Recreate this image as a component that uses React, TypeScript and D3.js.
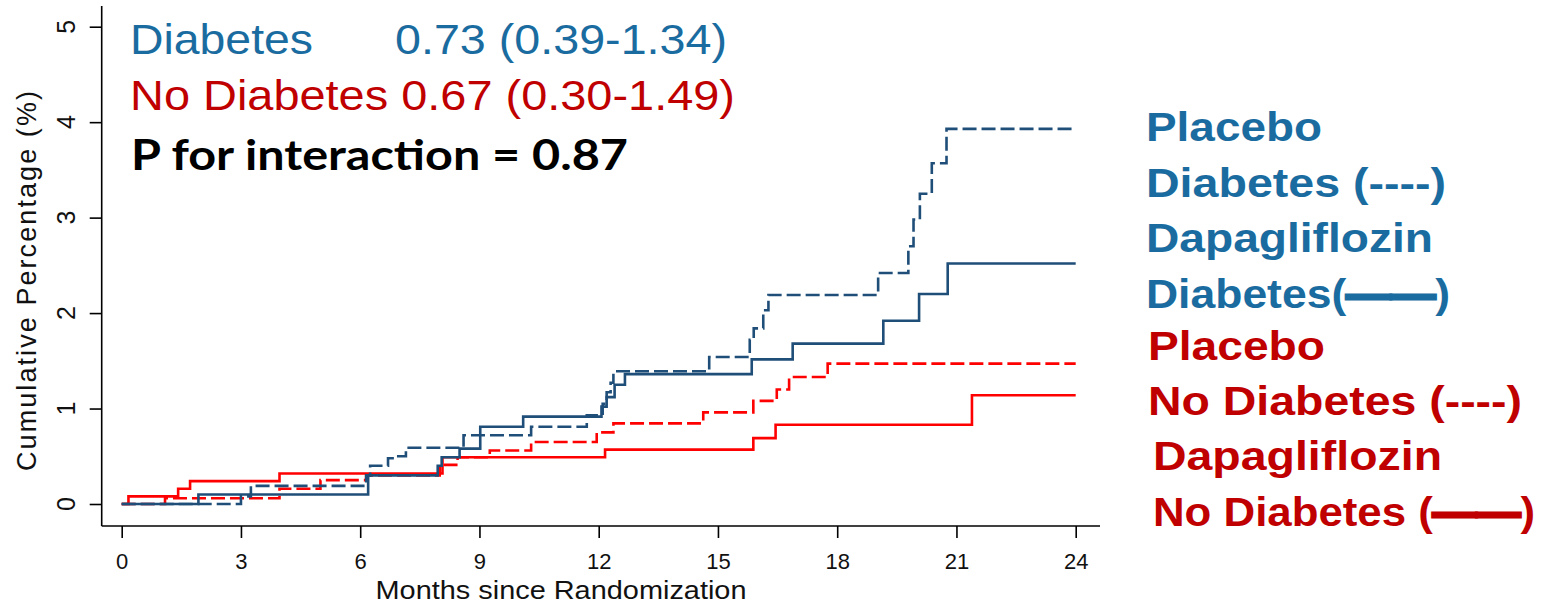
import React from 'react';
import * as d3 from 'd3';

// tick values
const monthTicks = [0, 3, 6, 9, 12, 15, 18, 21, 24];
const pctTicks = [0, 1, 2, 3, 4, 5];

// Placebo, diabetes (blue dashed)
const placeboDmMonths = [0, 3.0, 3.25, 6.15, 6.25, 6.7, 6.9, 7.15, 8.6, 10.3, 11.7, 12.1, 12.2, 12.3, 12.37, 14.78, 15.8, 15.9, 16.14, 16.27, 19.03, 19.79, 19.92, 20.08, 20.38, 20.75, 24];
const placeboDmPct = [0, 0.08, 0.19, 0.30, 0.40, 0.48, 0.50, 0.59, 0.72, 0.81, 0.93, 1.05, 1.17, 1.27, 1.39, 1.54, 1.72, 1.84, 2.03, 2.19, 2.42, 2.70, 2.98, 3.25, 3.57, 3.93, 3.93];

// Dapagliflozin, diabetes (blue solid)
const dapaDmMonths = [0, 1.93, 6.2, 7.95, 8.05, 8.5, 9.02, 10.1, 12.07, 12.2, 12.4, 12.66, 15.85, 16.88, 19.16, 20.06, 20.78, 24];
const dapaDmPct = [0, 0.10, 0.30, 0.40, 0.49, 0.58, 0.81, 0.915, 1.02, 1.12, 1.25, 1.36, 1.515, 1.68, 1.92, 2.20, 2.52, 2.52];

// Placebo, no diabetes (red dashed)
const placeboNoDmMonths = [0, 1.09, 3.97, 5.0, 6.15, 8.0, 8.45, 9.26, 10.3, 11.95, 12.37, 14.63, 15.89, 16.48, 16.79, 17.76, 24];
const placeboNoDmPct = [0, 0.06, 0.16, 0.25, 0.30, 0.41, 0.49, 0.56, 0.65, 0.75, 0.845, 0.96, 1.08, 1.20, 1.33, 1.47, 1.47];

// Dapagliflozin, no diabetes (red solid)
const dapaNoDmMonths = [0, 0.17, 1.42, 1.72, 3.97, 8.07, 12.16, 15.89, 16.45, 21.39, 24];
const dapaNoDmPct = [0, 0.08, 0.16, 0.24, 0.32, 0.49, 0.57, 0.69, 0.83, 1.14, 1.14];

const hrLabels = ['Diabetes', 'No Diabetes'];
const hrValues = ['0.73 (0.39-1.34)', '0.67 (0.30-1.49)'];
const pInteraction = 'P for interaction = 0.87';

// legend rows: [text, line sample, closing]
const legendLabels = [
  ['Placebo', ''], ['Diabetes (----)', ''], ['Dapagliflozin', ''], ['Diabetes(', '——', ')'],
  ['Placebo', ''], ['No Diabetes (----)', ''], ['Dapagliflozin', ''], ['No Diabetes (', '——', ')'],
];

const NAVY = '#1f4e79';
const RED = '#ff0000';
const TEXT_BLUE = '#1a6ca0';
const TEXT_RED = '#c00000';

const useD3 = (renderChart: any, dependencies: any[]) => {
  const ref = React.useRef<SVGSVGElement>(null);
  React.useEffect(() => {
    renderChart(d3.select(ref.current));
  }, dependencies);
  return ref;
};

const renderChart = (svg: any) => {
  svg.selectAll('*').remove();

  const x = d3.scaleLinear().domain([0, 24]).range([121.7, 1075.7]);
  const y = d3.scaleLinear().domain([0, 5]).range([504, 26.7]);

  const axisY = 526;
  const axisX = 101.7;

  // frame lines
  svg.append('line')
    .attr('x1', axisX).attr('x2', 1100)
    .attr('y1', axisY).attr('y2', axisY)
    .attr('stroke', 'black').attr('stroke-width', 1.6);
  svg.append('line')
    .attr('x1', axisX).attr('x2', axisX)
    .attr('y1', 6).attr('y2', axisY)
    .attr('stroke', 'black').attr('stroke-width', 1.6);

  // x axis
  const xAxis = svg.append('g')
    .attr('transform', `translate(0, ${axisY})`)
    .call(d3.axisBottom(x).tickValues(monthTicks).tickSize(12).tickSizeOuter(0).tickPadding(15));
  xAxis.select('.domain').remove();
  xAxis.selectAll('line').attr('stroke-width', 1.6);
  xAxis.selectAll('text')
    .attr('font-family', 'Liberation Sans, Arial, sans-serif')
    .attr('font-size', 22)
    .attr('fill', '#111');

  // y axis
  const yAxis = svg.append('g')
    .attr('transform', `translate(${axisX}, 0)`)
    .call(d3.axisLeft(y).tickValues(pctTicks).tickSize(12).tickSizeOuter(0).tickFormat(() => ''));
  yAxis.select('.domain').remove();
  yAxis.selectAll('line').attr('stroke-width', 1.6);

  svg.append('g')
    .selectAll('text')
    .data(pctTicks)
    .join('text')
    .attr('x', 66)
    .attr('y', (d: number) => y(d))
    .attr('transform', (d: number) => `rotate(-90, 66, ${y(d)})`)
    .attr('text-anchor', 'middle')
    .attr('dominant-baseline', 'central')
    .attr('font-family', 'Liberation Sans, Arial, sans-serif')
    .attr('font-size', 25)
    .attr('fill', '#111')
    .text((d: number) => d);

  // axis titles
  svg.append('text')
    .attr('x', 561).attr('y', 599)
    .attr('text-anchor', 'middle')
    .attr('font-family', 'Liberation Sans, Arial, sans-serif')
    .attr('font-size', 26)
    .attr('textLength', 371)
    .attr('lengthAdjust', 'spacingAndGlyphs')
    .attr('fill', '#111')
    .text('Months since Randomization');

  svg.append('text')
    .attr('transform', 'translate(36, 281) rotate(-90)')
    .attr('text-anchor', 'middle')
    .attr('font-family', 'Liberation Sans, Arial, sans-serif')
    .attr('font-size', 27)
    .attr('textLength', 380)
    .attr('lengthAdjust', 'spacing')
    .attr('fill', '#111')
    .text('Cumulative Percentage (%)');

  // curves
  const line = d3.line<[number, number]>()
    .x(d => x(d[0]))
    .y(d => y(d[1]))
    .curve(d3.curveStepAfter);

  const series = [
    { m: dapaNoDmMonths, p: dapaNoDmPct, color: RED, dash: null },
    { m: placeboNoDmMonths, p: placeboNoDmPct, color: RED, dash: '14,5' },
    { m: dapaDmMonths, p: dapaDmPct, color: NAVY, dash: null },
    { m: placeboDmMonths, p: placeboDmPct, color: NAVY, dash: '14,5' },
  ];

  svg.append('g')
    .selectAll('path')
    .data(series)
    .join('path')
    .attr('d', (s: any) => line(s.m.map((m: number, i: number) => [m, s.p[i]])))
    .attr('fill', 'none')
    .attr('stroke', (s: any) => s.color)
    .attr('stroke-width', 2.6)
    .attr('stroke-dasharray', (s: any) => s.dash);

  // hazard ratio text
  const hr = svg.append('g').attr('font-family', 'Liberation Sans, Arial, sans-serif').attr('font-size', 43);
  hr.append('text').attr('x', 130).attr('y', 54).attr('fill', TEXT_BLUE)
    .attr('textLength', 183).attr('lengthAdjust', 'spacingAndGlyphs').text(hrLabels[0]);
  hr.append('text').attr('x', 395).attr('y', 54).attr('fill', TEXT_BLUE)
    .attr('textLength', 332).attr('lengthAdjust', 'spacingAndGlyphs').text(hrValues[0]);
  hr.append('text').attr('x', 130).attr('y', 110).attr('fill', TEXT_RED)
    .attr('textLength', 605).attr('lengthAdjust', 'spacingAndGlyphs')
    .text(`${hrLabels[1]} ${hrValues[1]}`);
  svg.append('text').attr('x', 131).attr('y', 170)
    .attr('font-family', 'Lato, sans-serif').attr('font-weight', 'bold').attr('font-size', 42)
    .attr('textLength', 497).attr('lengthAdjust', 'spacingAndGlyphs')
    .attr('fill', '#000').text(pInteraction);

  // legend
  const legendX = [1146, 1146, 1146, 1146, 1148, 1148, 1153, 1153];
  const legendY = [141, 197, 252, 308, 360, 415, 470, 526];
  const legendW = [176, 300, 287, 304, 177, 374, 289, 382];
  const rows = svg.append('g')
    .attr('font-family', 'Liberation Sans, Arial, sans-serif')
    .attr('font-weight', 'bold')
    .attr('font-size', 41)
    .selectAll('text')
    .data(legendLabels)
    .join('text')
    .attr('x', (_: any, i: number) => legendX[i])
    .attr('y', (_: any, i: number) => legendY[i])
    .attr('textLength', (_: any, i: number) => legendW[i])
    .attr('lengthAdjust', 'spacingAndGlyphs')
    .attr('fill', (_: any, i: number) => (i < 4 ? TEXT_BLUE : TEXT_RED));

  rows.each(function (this: any, d: string[], i: number) {
    const t = d3.select(this);
    const color = i < 4 ? TEXT_BLUE : TEXT_RED;
    t.append('tspan').text(d[0]);
    if (d[1]) {
      t.append('tspan').attr('stroke', color).attr('stroke-width', 3).text(d[1]);
      t.append('tspan').text(d[2]);
    }
  });
};

const App: React.FC = () => {
  const ref = useD3(renderChart, []);
  return (
    <svg
      ref={ref}
      width={1557}
      height={607}
      style={{ position: 'absolute', left: 0, top: 0, background: 'white' }}
    />
  );
};

export default App;
